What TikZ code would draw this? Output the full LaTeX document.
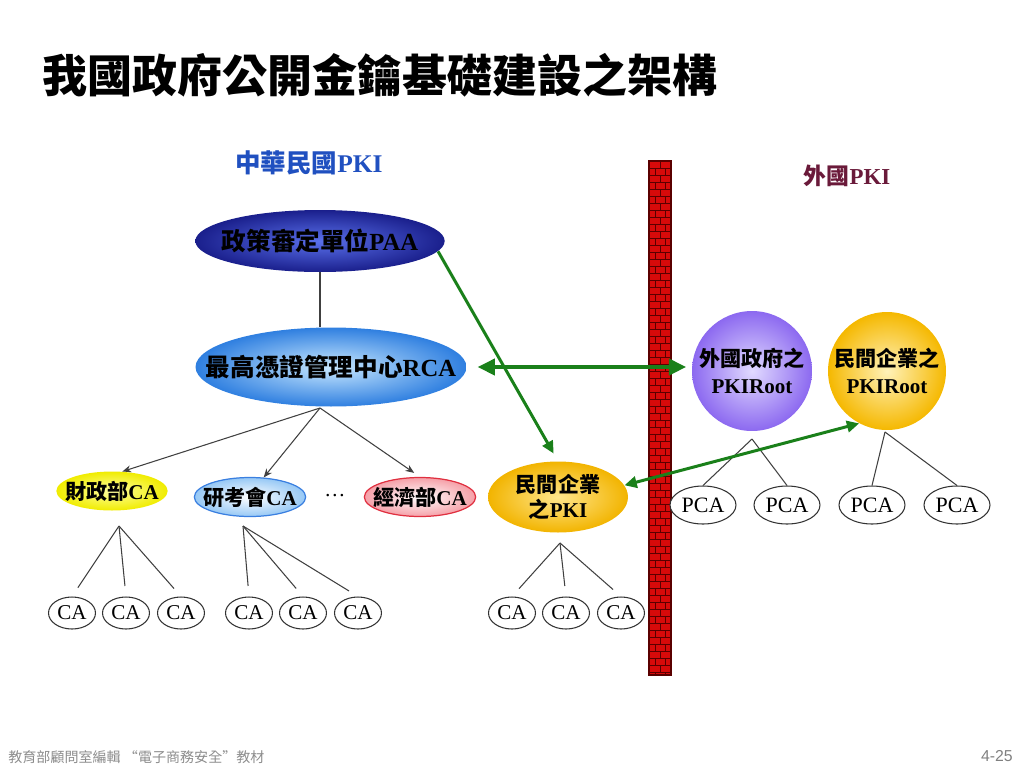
\documentclass[tikz,border=0pt]{standalone}
\usepackage{fontspec}
\setmainfont{Liberation Serif}
\setsansfont{Liberation Sans}
\newfontfamily\cjk{Noto Sans CJK TC}
\usetikzlibrary{shapes.geometric,arrows.meta}
\newcommand{\zh}[1]{{\cjk #1}}
\definecolor{linkgreen}{RGB}{26,128,26}
\definecolor{paaedge}{RGB}{26,31,140}
\definecolor{paamid}{RGB}{90,112,235}
\definecolor{rcaedge}{RGB}{47,127,224}
\definecolor{rcamid}{RGB}{200,232,255}
\definecolor{wallred}{RGB}{215,10,10}
\definecolor{walldark}{RGB}{90,0,0}
\tikzset{
  cabox/.style={ellipse,draw=black!80,line width=0.6pt,fill=white,minimum width=0.94cm,minimum height=0.64cm,inner sep=0pt,font=\fontsize{12}{12}\selectfont},
  pcabox/.style={cabox,minimum width=1.32cm,minimum height=0.76cm,font=\fontsize{12.5}{12.5}\selectfont},
  unitbox/.style={ellipse,inner sep=0pt,shading=radial,font=\bfseries\fontsize{12}{14}\selectfont,align=center},
  rootbox/.style={circle,inner sep=0pt,shading=radial,font=\bfseries\fontsize{12}{15}\selectfont,align=center},
  branch/.style={draw=black!75,line width=0.6pt},
  link/.style={draw=linkgreen,line width=1.7pt,-{Triangle[length=7pt,width=6.5pt]}}
}
\begin{document}
\begin{tikzpicture}[x=0.02cm,y=-0.02cm]
\useasboundingbox (0,0) rectangle (1024,768);

% title and footer
\node[anchor=west,inner sep=0pt,font=\cjk\bfseries\fontsize{25.6}{26}\selectfont] (title) at (42,75) {我國政府公開金鑰基礎建設之架構};
\node[anchor=west,inner sep=0pt,text=black!45,font=\cjk\fontsize{8}{9}\selectfont] (foot) at (8,757) {教育部顧問室編輯 “電子商務安全”教材};
\node[anchor=east,inner sep=0pt,text=black!50,font=\sffamily\fontsize{9}{9}\selectfont] (page) at (1013,756) {4-25};

% the two sides
\node[text={rgb,255:red,32;green,80;blue,192},font=\bfseries\fontsize{14.5}{14.5}\selectfont] (roc) at (309,163) {\zh{中華民國}PKI};
\node[text={rgb,255:red,106;green,26;blue,58},font=\bfseries\fontsize{13}{13}\selectfont] (abroad) at (847,176) {\zh{外國}PKI};

% wall
\begin{scope}
\clip (649,161) rectangle (671,675);
\fill[wallred] (649,161) rectangle (671,675);
\foreach \y in {161,168,...,675}
  \draw[walldark,line width=0.5pt] (649,\y) -- (671,\y);
\foreach \y in {161,175,...,675}
  \draw[walldark,line width=0.5pt] (660,\y) -- (660,\y+7) (655,\y+7) -- (655,\y+14) (665,\y+7) -- (665,\y+14);
\end{scope}
\draw[walldark,line width=0.6pt] (649,161) rectangle (671,675);

% domestic side
\node[unitbox,inner color=paamid,outer color=paaedge,minimum width=4.96cm,minimum height=1.24cm,inner xsep=-0.2cm,font=\bfseries\fontsize{14}{14}\selectfont] (paa) at (320,241) {\zh{政策審定單位}PAA};
\node[unitbox,inner color=rcamid,outer color=rcaedge,minimum width=5.42cm,minimum height=1.58cm,inner xsep=-0.59cm,font=\bfseries\fontsize{14}{14}\selectfont] (rca) at (331,367) {\zh{最高憑證管理中心}RCA};
\draw[branch] (paa.south) -- (paa.south |- rca.north);

\node[unitbox,inner color={rgb,255:red,255;green,255;blue,160},outer color={rgb,255:red,240;green,236;blue,0},minimum width=2.2cm,minimum height=0.78cm,inner xsep=-0.15cm] (mof) at (112,491) {\zh{財政部}CA};
\node[unitbox,draw={rgb,255:red,58;green,127;blue,224},line width=0.7pt,inner color=white,outer color={rgb,255:red,150;green,200;blue,245},minimum width=2.2cm,minimum height=0.78cm,inner xsep=-0.15cm] (rdec) at (250,497) {\zh{研考會}CA};
\node[font=\fontsize{12}{12}\selectfont] (more) at (335,496) {…};
\node[unitbox,draw={rgb,255:red,224;green,48;blue,64},line width=0.7pt,inner color=white,outer color={rgb,255:red,245;green,160;blue,168},minimum width=2.2cm,minimum height=0.78cm,inner xsep=-0.15cm] (moea) at (420,497) {\zh{經濟部}CA};
\node[unitbox,inner color={rgb,255:red,255;green,230;blue,140},outer color={rgb,255:red,242;green,180;blue,0},minimum width=2.8cm,minimum height=1.42cm] (biz) at (558,497) {\zh{民間企業}\\\zh{之}PKI};

\coordinate (rcafoot) at (320,408);
\draw[branch,-{Stealth[length=5pt,width=4pt]}] (rcafoot) -- (mof.62);
\draw[branch,-{Stealth[length=5pt,width=4pt]}] (rcafoot) -- (rdec.55);
\draw[branch,-{Stealth[length=5pt,width=4pt]},shorten >=4pt] (rcafoot) -- (moea.north);

% leaf CAs
\node[cabox] (ca1) at (72,613) {CA};
\node[cabox] (ca2) at (126,613) {CA};
\node[cabox] (ca3) at (181,613) {CA};
\node[cabox] (ca4) at (249,613) {CA};
\node[cabox] (ca5) at (303,613) {CA};
\node[cabox] (ca6) at (358,613) {CA};
\node[cabox] (ca7) at (512,613) {CA};
\node[cabox] (ca8) at (566,613) {CA};
\node[cabox] (ca9) at (621,613) {CA};

\coordinate (mofroot) at (119,526);
\coordinate (rdecroot) at (243,526);
\coordinate (bizroot) at (560,543);
\foreach \i in {1,2,3}
  \draw[branch,shorten >=6pt] (mofroot) -- (ca\i.north);
\foreach \i in {4,5,6}
  \draw[branch,shorten >=6pt] (rdecroot) -- (ca\i.north);
\foreach \i in {7,8,9}
  \draw[branch,shorten >=6pt] (bizroot) -- (ca\i.north);

% foreign side
\node[rootbox,inner color={rgb,255:red,225;green,218;blue,255},outer color={rgb,255:red,140;green,105;blue,240},minimum size=2.4cm] (froot) at (752,371) {\zh{外國政府之}\\PKIRoot};
\node[rootbox,inner color={rgb,255:red,255;green,242;blue,185},outer color={rgb,255:red,245;green,184;blue,0},minimum size=2.36cm] (broot) at (887,371) {\zh{民間企業之}\\PKIRoot};

\node[pcabox] (pca1) at (703,505) {PCA};
\node[pcabox] (pca2) at (787,505) {PCA};
\node[pcabox] (pca3) at (872,505) {PCA};
\node[pcabox] (pca4) at (957,505) {PCA};

\coordinate (frootfoot) at (752,439);
\coordinate (brootfoot) at (885,432);
\draw[branch] (frootfoot) -- (pca1.north);
\draw[branch] (frootfoot) -- (pca2.north);
\draw[branch] (brootfoot) -- (pca3.north);
\draw[branch] (brootfoot) -- (pca4.north);

% cross links
\draw[link,shorten >=5pt] (paa.-5) -- (biz.north);
\draw[link,line width=2.8pt,{Triangle[length=10pt,width=9pt]}-{Triangle[length=10pt,width=9pt]},shorten <=6pt,shorten >=3pt] (rca.east) -- (rca.east -| froot.west);
\draw[link,{Triangle[length=7pt,width=6.5pt]}-{Triangle[length=7pt,width=6.5pt]}] (biz.10) -- (broot.242);
\end{tikzpicture}
\end{document}
